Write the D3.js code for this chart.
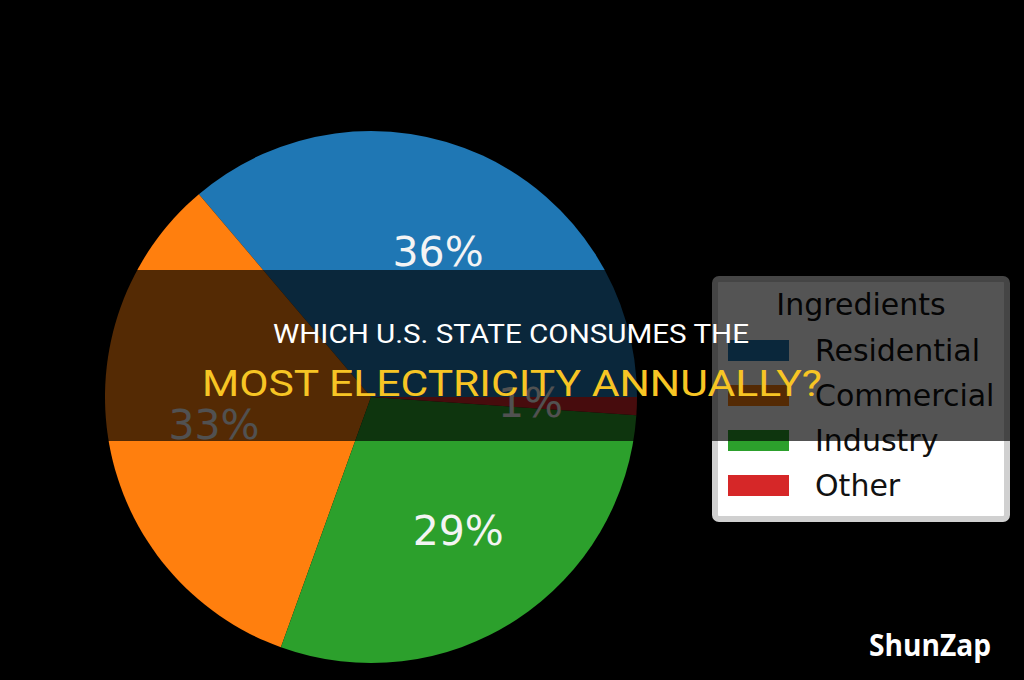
<!DOCTYPE html>
<html>
<head>
<meta charset="utf-8">
<script src="https://cdn.jsdelivr.net/npm/d3@7"></script>
<style>
  html, body { margin: 0; padding: 0; background: #000; }
  svg { display: block; }
</style>
</head>
<body>
<svg id="chart" width="1024" height="680"></svg>
<script>
const categories = ["Residential", "Commercial", "Industry", "Other"];
const values = [36.2, 33.3, 29.4, 1.1];
const colors = ["#1f77b4", "#ff7f0e", "#2ca02c", "#d62728"];
const legendTitle = "Ingredients";
const titleLine1 = "WHICH U.S. STATE CONSUMES THE";
const titleLine2 = "MOST ELECTRICITY ANNUALLY?";
const watermark = "ShunZap";

const svg = d3.select("#chart");
svg.append("rect").attr("width", 1024).attr("height", 680).attr("fill", "#000");

const cx = 371, cy = 397, r = 266;
const data = categories.map((c, i) => ({ name: c, value: values[i] }));
const total = d3.sum(values);

const pie = d3.pie().value(d => d.value).sort(null)
  .startAngle(Math.PI / 2).endAngle(Math.PI / 2 - 2 * Math.PI);
const arcs = pie(data);
const arc = d3.arc().innerRadius(0).outerRadius(r);
const labelArc = d3.arc().innerRadius(r * 0.6).outerRadius(r * 0.6);
const color = d3.scaleOrdinal().domain(categories).range(colors);

const g = svg.append("g").attr("transform", `translate(${cx},${cy})`);
g.selectAll("path.slice").data(arcs).join("path")
  .attr("class", "slice")
  .attr("d", arc)
  .attr("fill", d => color(d.data.name));

g.selectAll("text.pct").data(arcs).join("text")
  .attr("class", "pct")
  .attr("transform", d => `translate(${labelArc.centroid(d)})`)
  .attr("text-anchor", "middle")
  .attr("dominant-baseline", "central")
  .attr("font-family", "DejaVu Sans")
  .attr("font-size", 41)
  .attr("fill", "#f4f4f4")
  .text(d => d3.format(".0f")(d.data.value / total * 100) + "%");

// Legend
const lg = svg.append("g").attr("transform", "translate(712,276)");
lg.append("rect").attr("x", 3).attr("y", 3).attr("width", 292).attr("height", 240)
  .attr("rx", 4).attr("fill", "#fff").attr("stroke", "#d0d0d0").attr("stroke-width", 6);
lg.append("text").attr("x", 149).attr("y", 39).attr("text-anchor", "middle")
  .attr("font-family", "DejaVu Sans").attr("font-size", 30).attr("fill", "#111")
  .text(legendTitle);
const items = lg.selectAll("g.item").data(categories).join("g")
  .attr("class", "item")
  .attr("transform", (d, i) => `translate(0,${64 + i * 45})`);
items.append("rect").attr("x", 16).attr("y", 0).attr("width", 61).attr("height", 21)
  .attr("fill", d => color(d));
items.append("text").attr("x", 103).attr("y", 21)
  .attr("font-family", "DejaVu Sans").attr("font-size", 30).attr("fill", "#111")
  .attr("textLength", d => d === "Residential" ? 165 : null)
  .text(d => d);

// Overlay band
svg.append("rect").attr("x", 0).attr("y", 270).attr("width", 1024).attr("height", 171)
  .attr("fill", "#000").attr("opacity", 0.67);

svg.append("text").attr("x", 511).attr("y", 343).attr("text-anchor", "middle")
  .attr("font-family", "Roboto").attr("font-size", 26).attr("fill", "#fff")
  .attr("textLength", 476).attr("lengthAdjust", "spacingAndGlyphs")
  .text(titleLine1);
svg.append("text").attr("x", 512).attr("y", 396).attr("text-anchor", "middle")
  .attr("font-family", "Roboto").attr("font-size", 37).attr("font-weight", 400).attr("fill", "#f7c524")
  .attr("textLength", 620).attr("lengthAdjust", "spacingAndGlyphs")
  .text(titleLine2);

svg.append("text").attr("x", 930).attr("y", 656).attr("text-anchor", "middle")
  .attr("font-family", "Open Sans").attr("font-weight", 700).attr("font-size", 30).attr("fill", "#fff")
  .attr("textLength", 122).attr("lengthAdjust", "spacingAndGlyphs")
  .text(watermark);
</script>
</body>
</html>
